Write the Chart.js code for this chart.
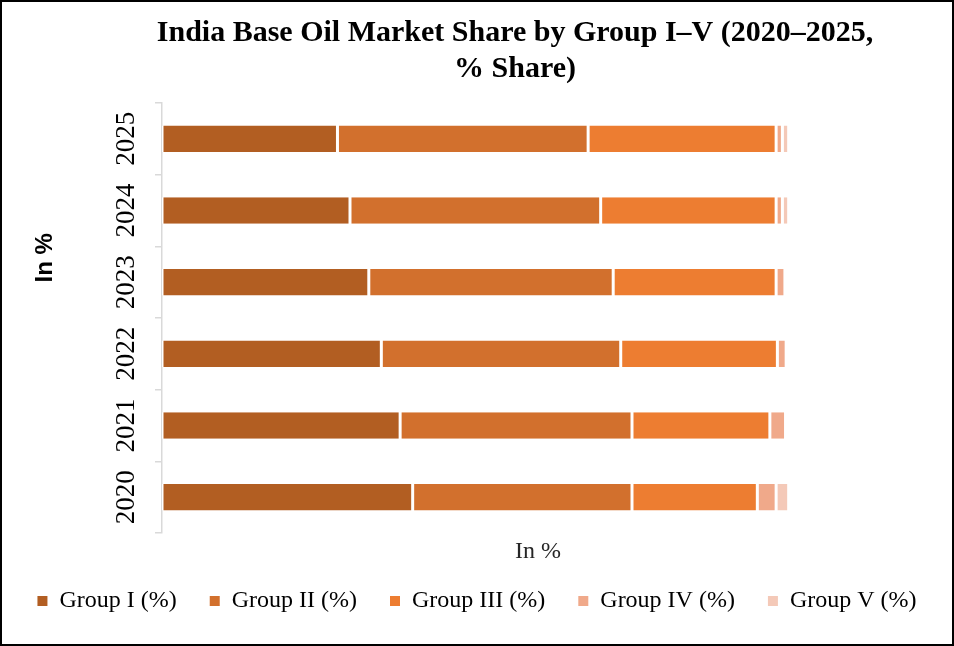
<!DOCTYPE html>
<html>
<head>
<meta charset="utf-8">
<script src="https://cdn.jsdelivr.net/npm/chart.js@4.4.1/dist/chart.umd.min.js"></script>
<style>
  html, body { margin: 0; padding: 0; background: #fff; }
  #wrap { width: 954px; height: 646px; box-sizing: border-box; border: 2px solid #000; position: relative; background: #fff; }
  #wrap canvas { display: block; }
</style>
</head>
<body>
<div id="wrap"><canvas id="c"></canvas></div>
<script>
const years = ['2020', '2021', '2022', '2023', '2024', '2025'];
const groupI = [40, 38, 35, 33, 30, 28];
const groupII = [35, 37, 38.2, 39, 40, 40];
const groupIII = [20, 22, 25, 26, 28, 30];
const groupIV = [3, 2.5, 1.4, 1.4, 1, 1];
const groupV = [2, 0, 0, 0, 1, 1];
const seriesNames = ['Group I (%)', 'Group II (%)', 'Group III (%)', 'Group IV (%)', 'Group V (%)'];
const seriesColors = ['#B25E22', '#D2702D', '#ED7D31', '#F0A98A', '#F4C9B8'];
const titleLines = ['India Base Oil Market Share by Group I\u2013V (2020\u20132025,', '% Share)'];
const axisTitleX = 'In %';
const axisTitleY = 'In %';

const serif = "'Liberation Serif', 'Times New Roman', serif";
const seriesData = [groupI, groupII, groupIII, groupIV, groupV];

const yTitlePlugin = {
  id: 'yTitle',
  afterLayout(chart) {
    const t = chart.titleBlock;
    if (t) { t.left -= 23; t.right -= 23; }
  },
  afterDraw(chart) {
    const { ctx, chartArea } = chart;
    ctx.save();
    const y = chartArea.top + 0.36 * (chartArea.bottom - chartArea.top);
    ctx.translate(43, y);
    ctx.rotate(-Math.PI / 2);
    ctx.font = "bold 24px 'Liberation Sans', Arial, sans-serif";
    ctx.fillStyle = '#000';
    ctx.textAlign = 'center';
    ctx.textBaseline = 'middle';
    ctx.fillText(axisTitleY, 0, 0);
    ctx.restore();
  }
};

new Chart(document.getElementById('c'), {
  type: 'bar',
  data: {
    labels: years,
    datasets: seriesData.map((d, i) => ({
      label: seriesNames[i],
      data: d,
      backgroundColor: seriesColors[i],
      borderColor: '#ffffff',
      borderWidth: { left: 1.5, right: 1.5, top: 0, bottom: 0 },
      borderSkipped: false,
      barPercentage: 0.37,
      categoryPercentage: 1.0
    }))
  },
  options: {
    indexAxis: 'y',
    responsive: true,
    maintainAspectRatio: false,
    animation: false,
    layout: { padding: { left: 0, right: 0, top: 0, bottom: 21 } },
    plugins: {
      title: {
        display: true,
        text: titleLines,
        fullSize: false,
        color: '#000',
        font: { family: serif, size: 30, weight: 'bold', lineHeight: 1.2 },
        padding: { top: 13, bottom: 16 }
      },
      legend: {
        position: 'bottom',
        labels: {
          boxWidth: 10,
          boxHeight: 10,
          padding: 33,
          color: '#000',
          font: { family: serif, size: 24 },
          generateLabels(chart) {
            const items = Chart.defaults.plugins.legend.labels.generateLabels(chart);
            items.forEach(it => { it.lineWidth = 0; it.strokeStyle = 'rgba(0,0,0,0)'; });
            return items;
          }
        }
      },
      tooltip: { enabled: false }
    },
    scales: {
      x: {
        stacked: true,
        min: 0,
        max: 120,
        ticks: { display: false },
        grid: { display: false, drawTicks: false },
        border: { display: false },
        title: {
          display: true,
          text: axisTitleX,
          color: '#262626',
          font: { family: serif, size: 24, lineHeight: 1.2 },
          padding: { top: 4.6, bottom: -10.4 }
        }
      },
      y: {
        stacked: true,
        reverse: true,
        afterFit(scale) { scale.width = 160; },
        ticks: {
          minRotation: 90,
          maxRotation: 90,
          crossAlign: 'center',
          padding: 1,
          color: '#000',
          font: { family: serif, size: 27 }
        },
        grid: {
          display: true,
          drawOnChartArea: false,
          drawTicks: true,
          tickLength: 7,
          offset: true,
          color: '#d9d9d9',
          lineWidth: 1.5
        },
        border: { display: true, color: '#d9d9d9', width: 1.5 }
      },
      ySpace: {
        type: 'linear',
        position: 'right',
        display: true,
        afterFit(scale) { scale.width = 38; },
        ticks: { display: false },
        grid: { display: false, drawTicks: false },
        border: { display: false }
      }
    }
  },
  plugins: [yTitlePlugin]
});
</script>
</body>
</html>
